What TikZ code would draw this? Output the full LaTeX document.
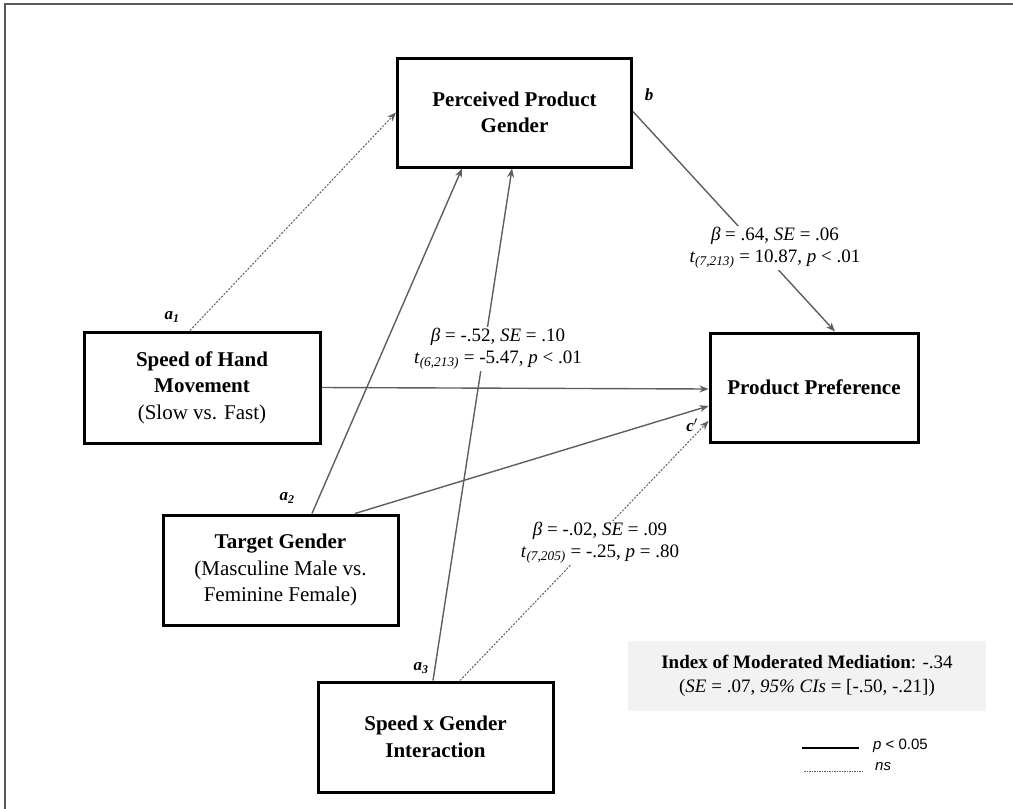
\documentclass[tikz,border=0pt]{standalone}
\usepackage{fontspec}
\setmainfont{Liberation Serif}
\newfontfamily\legendfont{Liberation Sans}
\usetikzlibrary{arrows.meta,calc}
\definecolor{linkgray}{HTML}{5E5E5E}
\definecolor{framegray}{HTML}{5A5A5A}
\definecolor{indexfill}{HTML}{F2F2F2}
\begin{document}
\begin{tikzpicture}[x=1pt,y=-1pt,
  var/.style={draw=black, line width=3pt, align=center, inner sep=0pt,
    font=\fontsize{21}{26.5}\selectfont},
  link/.style={draw=linkgray, line width=1.4pt,
    -{Stealth[length=9pt,width=7pt,fill=linkgray]}},
  nslink/.style={link, line width=1pt, dash pattern=on 2pt off 1.5pt},
  est/.style={fill=white, align=center, inner sep=1pt,
    font=\fontsize{19}{22}\selectfont},
  pathlab/.style={inner sep=0pt, font=\fontsize{17}{17}\selectfont\bfseries\itshape},
  legtext/.style={anchor=west, inner sep=0pt, font=\legendfont\fontsize{15}{15}\selectfont}
]
\useasboundingbox (0,0) rectangle (1013,809);

% outer frame (open at right and bottom)
\coordinate (fbl) at (5,809);
\coordinate (ftl) at (5,4);
\coordinate (ftr) at (1013,4);
\draw[framegray, line width=2pt] (fbl) -- (ftl) -- (ftr);

% variables
\node[var, minimum width=234pt, minimum height=109pt] (ppg) at (514.5,112.5)
  {\textbf{Perceived Product}\\\textbf{Gender}};
\node[var, minimum width=236pt, minimum height=111pt] (speed) at (202,387.5)
  {\textbf{Speed of Hand}\\\textbf{Movement}\\(Slow vs. Fast)};
\node[var, minimum width=235pt, minimum height=110pt] (target) at (280.5,570)
  {\textbf{Target Gender}\\(Masculine Male vs.\\Feminine Female)};
\node[var, minimum width=235pt, minimum height=110pt] (sxg) at (435.5,737)
  {\textbf{Speed x Gender}\\\textbf{Interaction}};
\node[var, minimum width=208pt, minimum height=109pt] (pp) at (814,387.5)
  {\textbf{Product Preference}};

% paths
\draw[nslink] ([xshift=-12pt]speed.north) -- (ppg.west);
\draw[link] ([xshift=31.5pt]target.north) -- ([xshift=-52.5pt]ppg.south);
\draw[link] ([xshift=-2.5pt]sxg.north) -- ([xshift=-2.5pt]ppg.south);
\draw[link] ([yshift=1pt]ppg.east) -- ([xshift=21pt]pp.north);
\draw[link] (speed.east) -- ([yshift=-1.5pt]pp.west);
\draw[link] ([xshift=74.5pt]target.north) -- ([yshift=-18.5pt]pp.west);
\draw[nslink] ([xshift=24.5pt]sxg.north) -- ([yshift=-33.5pt]pp.west);

% path estimates
\node[est] (estb) at (775,248)
  {\textit{β} = .64, \textit{SE} = .06\\\textit{t}\textsubscript{\textit{(7,213)}} = 10.87, \textit{p} < .01};
\node[est] (estc) at (498,349)
  {\textit{β} = -.52, \textit{SE} = .10\\\textit{t}\textsubscript{\textit{(6,213)}} = -5.47, \textit{p} < .01};
\node[est] (estcp) at (600,543)
  {\textit{β} = -.02, \textit{SE} = .09\\\textit{t}\textsubscript{\textit{(7,205)}} = -.25, \textit{p} = .80};

% path names
\node[pathlab] (la1) at (172,317) {a\textsubscript{1}};
\node[pathlab] (la2) at (287,498) {a\textsubscript{2}};
\node[pathlab] (la3) at (421,668) {a\textsubscript{3}};
\node[pathlab] (lb) at (649,95) {b};
\node[pathlab] (lcp) at (692,425) {c$'$};

% index of moderated mediation
\node[fill=indexfill, minimum width=358pt, minimum height=70pt, align=center,
  inner sep=0pt, font=\fontsize{19}{24}\selectfont] (imm) at (807,676)
  {\textbf{Index of Moderated Mediation}: -.34\\(\textit{SE} = .07, \textit{95\% CIs} = [-.50, -.21])};

% legend
\coordinate (ls1) at (802,748);
\coordinate (ls2) at (859,748);
\coordinate (ld1) at (804,771);
\coordinate (ld2) at (862,771);
\draw[black, line width=1.2pt] (ls1) -- (ls2);
\draw[linkgray, line width=0.9pt, dash pattern=on 1.5pt off 1pt] (ld1) -- (ld2);
\node[legtext] (lsig) at (873,746) {\textit{p} < 0.05};
\node[legtext] (lns) at (875,767) {\textit{ns}};
\end{tikzpicture}
\end{document}
